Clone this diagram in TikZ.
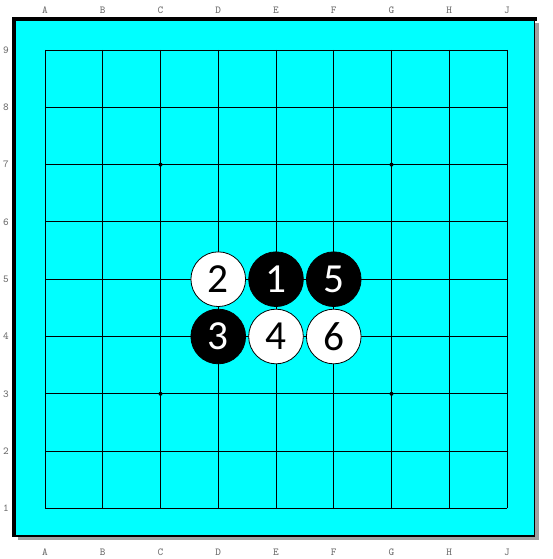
\documentclass[tikz,border=0pt]{standalone}
\usepackage{fontspec}
\usepackage{tikz}
\newfontfamily\stonefont{Carlito}
\definecolor{boardcyan}{RGB}{0,255,255}
\definecolor{shadowgray}{RGB}{160,160,160}
\definecolor{labelgray}{RGB}{110,110,110}

\begin{document}
\begin{tikzpicture}[
    x=0.75pt, y=-0.75pt,
    stone/.style={circle, draw=black, line width=0.6pt, minimum size=41pt, inner sep=0pt,
        font=\stonefont\fontsize{31}{31}\selectfont},
    blackstone/.style={stone, fill=black, text=white},
    whitestone/.style={stone, fill=white, text=black},
    coordlabel/.style={text=labelgray, inner sep=0pt, font=\ttfamily\fontsize{8}{8}\selectfont},
    gridline/.style={line width=0.6pt, black},
    hoshi/.style={fill=black}
]
    \useasboundingbox (0,0) rectangle (552,559);
    % board with shadow
    \fill[shadowgray] (18,23) rectangle (538.5,539.5);
    \fill[boardcyan] (14,19) rectangle (534.5,536);
    \draw[line width=1.2pt] (14,19) rectangle (534.5,536);
    \draw[line width=2.8pt] (12.3,19) -- (536.5,19);
    \draw[line width=2.8pt] (14,17.3) -- (14,537);
    % grid
    \foreach \i in {0,...,8} {
        \draw[gridline] (45+57.75*\i,50) -- (45+57.75*\i,508.4);
        \draw[gridline] (45,50+57.3*\i) -- (507,50+57.3*\i);
    }
    % star points
    \foreach \i/\j in {2/2, 6/2, 2/6, 6/6}
        \fill[hoshi] (45+57.75*\i,50+57.3*\j) circle (2);
    % coordinates
    \foreach \c [count=\i from 0] in {A,B,C,D,E,F,G,H,J} {
        \node[coordlabel] (top\c) at (45+57.75*\i,10) {\c};
        \node[coordlabel] (bot\c) at (45+57.75*\i,552) {\c};
    }
    \foreach \r in {1,...,9}
        \node[coordlabel] (left\r) at (6,50+57.3*9-57.3*\r) {\r};
    % stones
    \node[blackstone] (m1) at (276.00,279.2) {1};
    \node[whitestone] (m2) at (218.25,279.2) {2};
    \node[blackstone] (m3) at (218.25,336.5) {3};
    \node[whitestone] (m4) at (276.00,336.5) {4};
    \node[blackstone] (m5) at (333.75,279.2) {5};
    \node[whitestone] (m6) at (333.75,336.5) {6};
\end{tikzpicture}
\end{document}
